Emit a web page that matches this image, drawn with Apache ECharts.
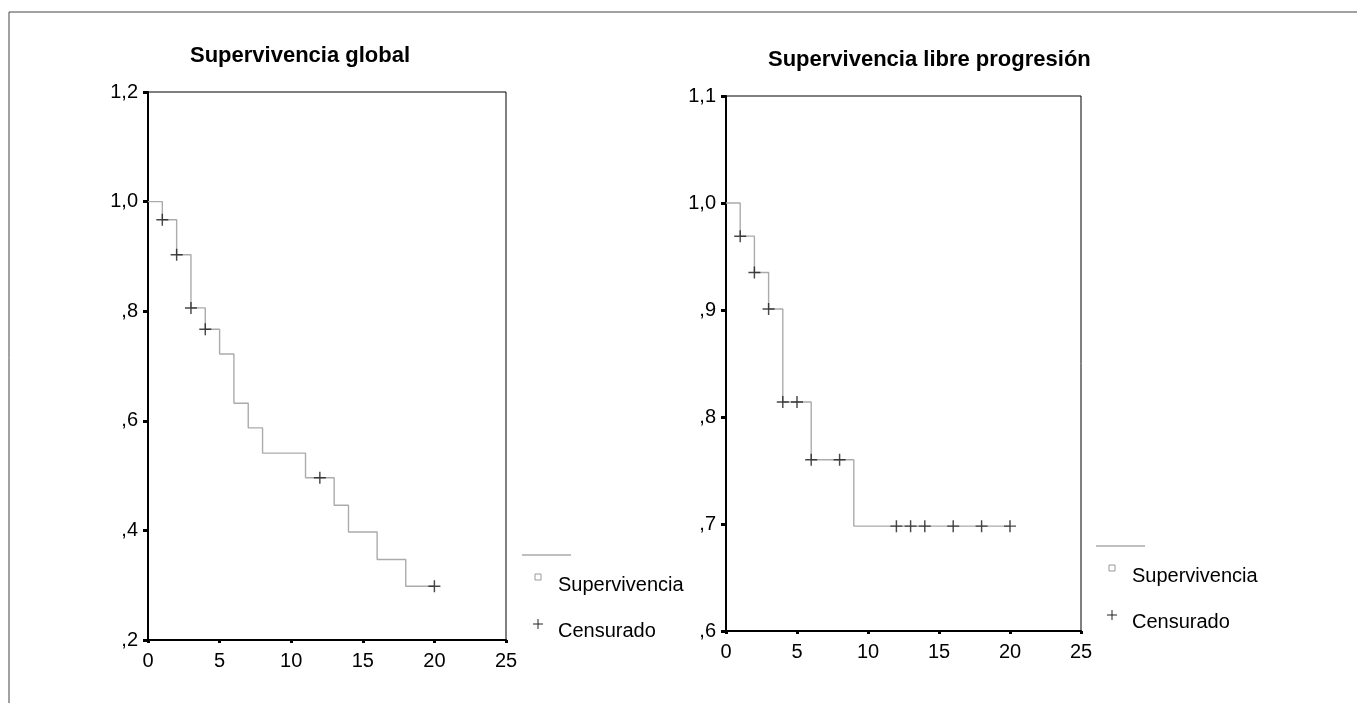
<!DOCTYPE html>
<html>
<head>
<meta charset="utf-8">
<script src="https://cdn.jsdelivr.net/npm/echarts@6/dist/echarts.min.js"></script>
<style>
html, body { margin: 0; padding: 0; background: #fff; }
#chart { width: 1357px; height: 703px; }
</style>
</head>
<body>
<div id="chart"></div>
<script>
// Supervivencia global (Kaplan-Meier)
var globalTimes = [0, 1, 2, 3, 4, 5, 6, 7, 8, 11, 13, 14, 16, 18, 20];
var globalSurv = [1.0, 0.967, 0.903, 0.806, 0.767, 0.722, 0.632, 0.587, 0.541, 0.496, 0.446, 0.397, 0.347, 0.298, 0.298];
var globalCensTimes = [1, 2, 3, 4, 12, 20];
var globalCensSurv = [0.967, 0.903, 0.806, 0.767, 0.496, 0.298];

// Supervivencia libre progresion
var libreTimes = [0, 1, 2, 3, 4, 6, 9, 20];
var libreSurv = [1.0, 0.969, 0.935, 0.901, 0.814, 0.760, 0.698, 0.698];
var libreCensTimes = [1, 2, 3, 4, 5, 6, 8, 12, 13, 14, 16, 18, 20];
var libreCensSurv = [0.969, 0.935, 0.901, 0.814, 0.814, 0.760, 0.760, 0.698, 0.698, 0.698, 0.698, 0.698, 0.698];

var titles = ['Supervivencia global', 'Supervivencia libre progresión'];
var legendNames = ['Supervivencia', 'Censurado'];

var FONT = 'Liberation Sans, Arial, sans-serif';
var plusPath = 'path://M0,4.4H10V5.6H0Z M4.4,0H5.6V10H4.4Z';

function pairs(xs, ys) {
    var out = [];
    for (var i = 0; i < xs.length; i++) out.push([xs[i], ys[i]]);
    return out;
}

// SPSS style: 1,0  ,8  ,6
function fmtY(v) {
    var s = v.toFixed(1).replace('.', ',');
    if (s.charAt(0) === '0') s = s.substring(1);
    return s;
}

function xAxisCfg(idx) {
    return {
        gridIndex: idx,
        type: 'value',
        min: 0,
        max: 25,
        interval: 5,
        axisLine: { show: true, lineStyle: { color: '#000', width: 2 } },
        axisTick: { show: true, length: 3, lineStyle: { color: '#000', width: 3 } },
        axisLabel: { color: '#000', fontSize: 20, fontFamily: FONT, margin: 11 },
        splitLine: { show: false }
    };
}

function yAxisCfg(idx, min, max, step) {
    return {
        gridIndex: idx,
        type: 'value',
        min: min,
        max: max,
        interval: step,
        axisLine: { show: true, lineStyle: { color: '#000', width: 2 } },
        axisTick: { show: true, length: 5, lineStyle: { color: '#000', width: 3 } },
        axisLabel: { color: '#000', fontSize: 20, fontFamily: FONT, margin: 10, formatter: fmtY },
        splitLine: { show: false }
    };
}

function stepSeries(idx, xs, ys) {
    return {
        name: legendNames[0],
        type: 'line',
        step: 'end',
        xAxisIndex: idx,
        yAxisIndex: idx,
        data: pairs(xs, ys),
        showSymbol: false,
        lineStyle: { color: '#ababab', width: 1.4 },
        silent: true
    };
}

function censSeries(idx, xs, ys) {
    return {
        name: legendNames[1],
        type: 'scatter',
        xAxisIndex: idx,
        yAxisIndex: idx,
        data: pairs(xs, ys),
        symbol: plusPath,
        symbolSize: 12,
        itemStyle: { color: '#1a1a1a' },
        z: 5
    };
}

function legendBlock(x, y) {
    // x = icon centre, y = top grey line
    return [
        { type: 'line', shape: { x1: x - 16, y1: y, x2: x + 33, y2: y }, style: { stroke: '#aaa', lineWidth: 1.3 } },
        { type: 'rect', shape: { x: x - 3, y: y + 19, width: 6, height: 6 }, style: { fill: '#fff', stroke: '#999', lineWidth: 1 } },
        { type: 'text', x: x + 20, y: y + 30, style: { text: legendNames[0], fontSize: 20, fontFamily: FONT, fill: '#000', verticalAlign: 'middle' } },
        { type: 'line', shape: { x1: x - 5, y1: y + 69, x2: x + 5, y2: y + 69 }, style: { stroke: '#222', lineWidth: 1 } },
        { type: 'line', shape: { x1: x, y1: y + 64, x2: x, y2: y + 74 }, style: { stroke: '#222', lineWidth: 1 } },
        { type: 'text', x: x + 20, y: y + 76, style: { text: legendNames[1], fontSize: 20, fontFamily: FONT, fill: '#000', verticalAlign: 'middle' } }
    ];
}

var chart = echarts.init(document.getElementById('chart'));

var option = {
    backgroundColor: '#fff',
    animation: false,
    title: [
        { text: titles[0], left: 185, top: 40, textStyle: { fontSize: 22, fontWeight: 'bold', fontFamily: FONT, color: '#000' } },
        { text: titles[1], left: 763, top: 44, textStyle: { fontSize: 22, fontWeight: 'bold', fontFamily: FONT, color: '#000' } }
    ],
    grid: [
        { left: 148, top: 92, width: 358, height: 548, show: true, borderColor: '#000', borderWidth: 1, backgroundColor: 'transparent' },
        { left: 726, top: 96, width: 355, height: 535, show: true, borderColor: '#000', borderWidth: 1, backgroundColor: 'transparent' }
    ],
    xAxis: [xAxisCfg(0), xAxisCfg(1)],
    yAxis: [yAxisCfg(0, 0.2, 1.2, 0.2), yAxisCfg(1, 0.6, 1.1, 0.1)],
    series: [
        stepSeries(0, globalTimes, globalSurv),
        censSeries(0, globalCensTimes, globalCensSurv),
        stepSeries(1, libreTimes, libreSurv),
        censSeries(1, libreCensTimes, libreCensSurv)
    ],
    graphic: [
        { type: 'line', shape: { x1: 9, y1: 12, x2: 1357, y2: 12 }, style: { stroke: '#444', lineWidth: 1 } },
        { type: 'line', shape: { x1: 9, y1: 12, x2: 9, y2: 703 }, style: { stroke: '#444', lineWidth: 1 } }
    ].concat(legendBlock(538, 555), legendBlock(1112, 546))
};

chart.setOption(option);
</script>
</body>
</html>
